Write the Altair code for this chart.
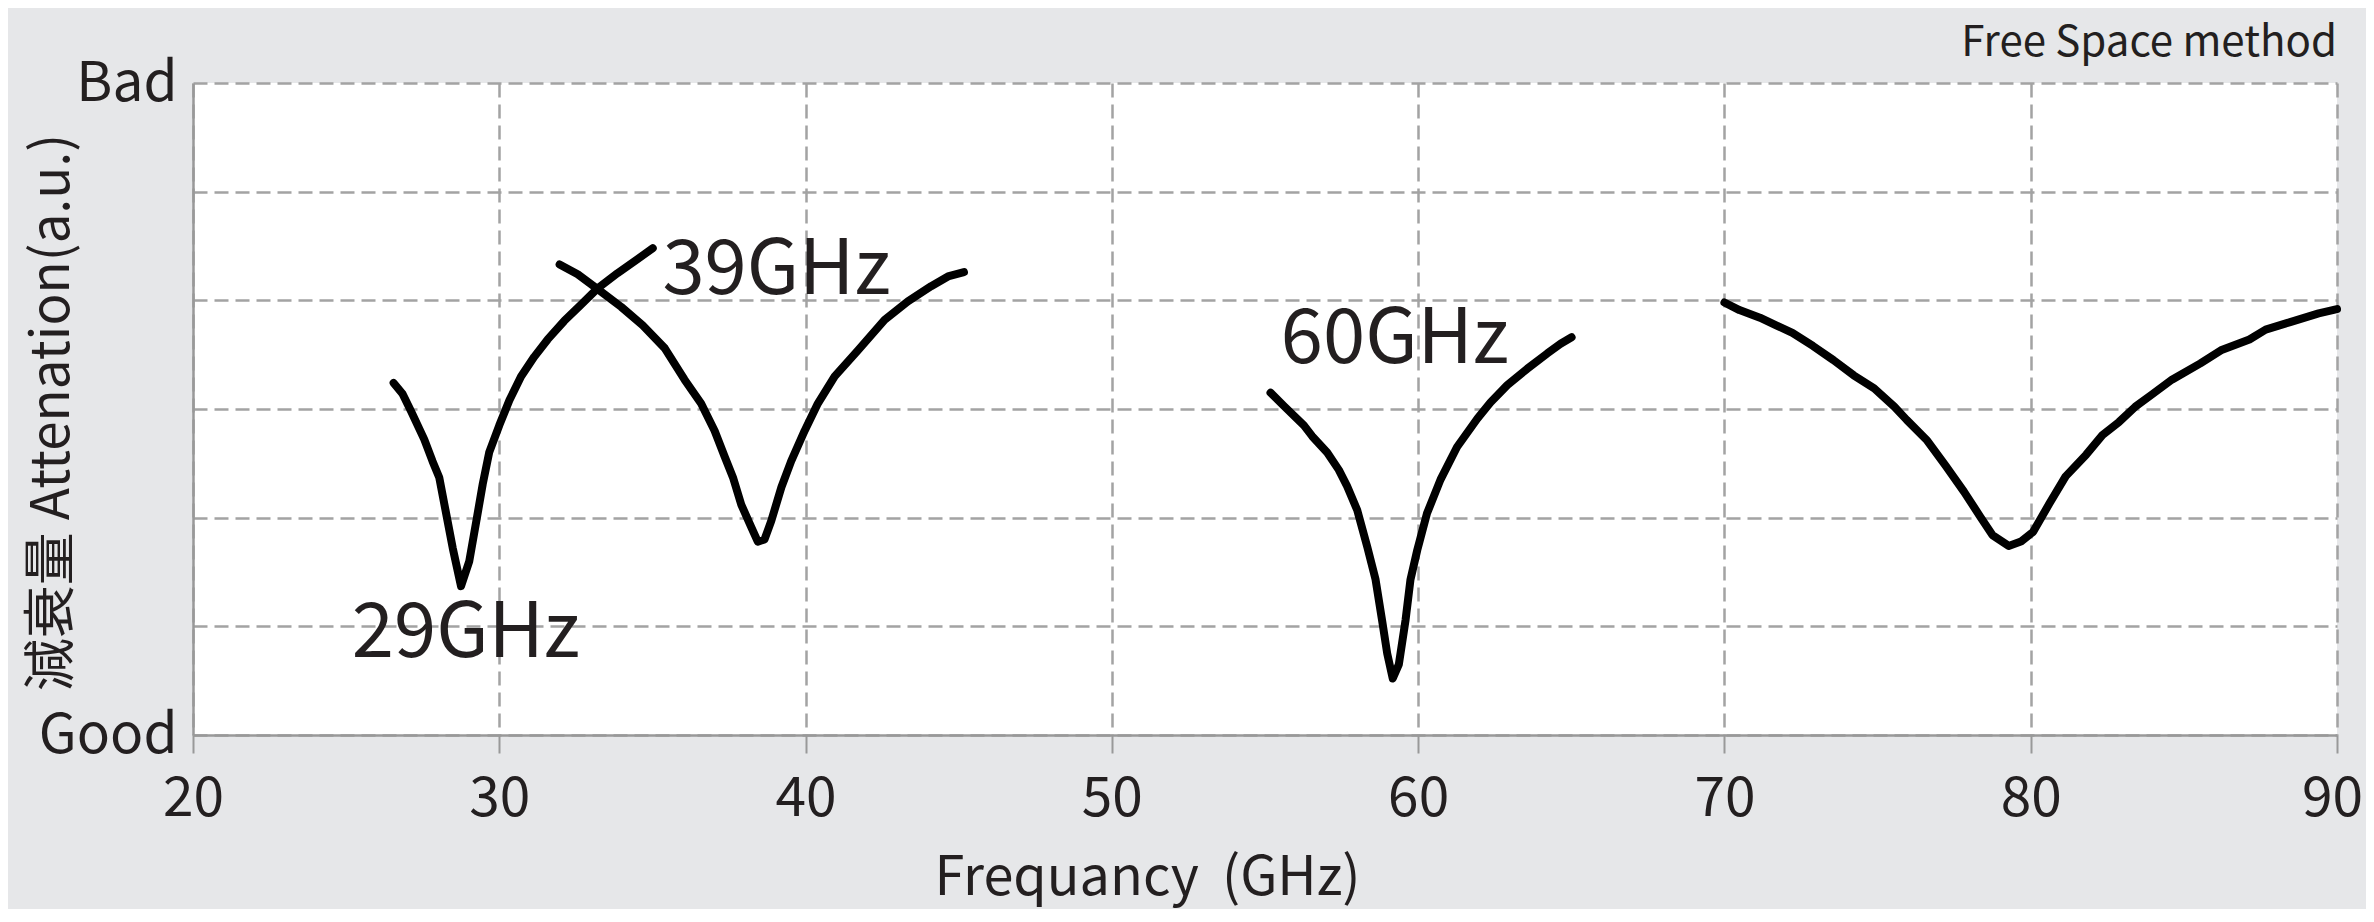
import altair as alt
import pandas as pd

# ---- data ----
c29_freq = [26.55, 26.84, 27.12, 27.55, 27.82, 28.04, 28.23, 28.48, 28.75, 29.02, 29.27, 29.46,
            29.67, 30.00, 30.33, 30.71, 31.14, 31.58, 32.12, 32.67, 33.21, 33.86, 34.52, 35.01]
c29_att = [3.24, 3.14, 2.98, 2.72, 2.52, 2.37, 2.09, 1.72, 1.37, 1.60, 2.00, 2.31,
           2.60, 2.85, 3.08, 3.30, 3.48, 3.64, 3.81, 3.96, 4.11, 4.25, 4.38, 4.48]

c39_freq = [31.97, 32.56, 33.23, 33.98, 34.68, 35.40, 36.05, 36.59, 37.03, 37.36, 37.63, 37.90,
            38.23, 38.44, 38.66, 38.88, 39.21, 39.53, 39.97, 40.40, 40.95, 41.71, 42.58, 43.34,
            44.10, 44.65, 45.17]
c39_att = [4.33, 4.24, 4.10, 3.94, 3.77, 3.56, 3.27, 3.05, 2.80, 2.56, 2.37, 2.12,
           1.91, 1.78, 1.80, 1.97, 2.28, 2.52, 2.80, 3.05, 3.30, 3.54, 3.82, 3.99,
           4.13, 4.22, 4.26]

c60_freq = [55.18, 55.61, 56.27, 56.54, 57.03, 57.41, 57.68, 58.01, 58.34, 58.61, 58.82, 58.99,
            59.17, 59.37, 59.59, 59.75, 59.97, 60.29, 60.73, 61.27, 61.93, 62.36, 62.91, 63.56,
            64.21, 64.65, 65.01]
c60_att = [3.15, 3.03, 2.85, 2.75, 2.60, 2.44, 2.29, 2.07, 1.73, 1.43, 1.06, 0.75,
           0.52, 0.65, 1.06, 1.43, 1.70, 2.04, 2.35, 2.65, 2.91, 3.06, 3.22, 3.37,
           3.51, 3.60, 3.66]

c79_freq = [70.00, 70.49, 71.16, 71.69, 72.22, 72.89, 73.56, 74.22, 74.89, 75.55, 75.95, 76.62,
            77.22, 77.82, 78.35, 78.75, 79.28, 79.68, 80.08, 80.61, 81.14, 81.81, 82.34, 82.88,
            83.41, 83.94, 84.61, 85.54, 86.21, 87.14, 87.67, 88.47, 89.40, 90.00]
c79_att = [3.98, 3.91, 3.84, 3.77, 3.70, 3.58, 3.45, 3.31, 3.19, 3.02, 2.90, 2.71,
           2.48, 2.24, 2.01, 1.84, 1.74, 1.78, 1.87, 2.13, 2.38, 2.58, 2.76, 2.88,
           3.02, 3.13, 3.27, 3.42, 3.54, 3.64, 3.73, 3.80, 3.88, 3.92]

label_text = ["29GHz", "39GHz", "60GHz"]
label_freq = [28.91, 39.05, 59.24]
label_att = [0.72, 4.06, 3.42]

x_ticks = [20, 30, 40, 50, 60, 70, 80, 90]
y_ticks = [0, 1, 2, 3, 4, 5, 6]

# ---- build tables ----
rows = []
for name, fx, fy in [("29", c29_freq, c29_att), ("39", c39_freq, c39_att),
                     ("60", c60_freq, c60_att), ("79", c79_freq, c79_att)]:
    for i, (a, b) in enumerate(zip(fx, fy)):
        rows.append({"curve": name, "i": i, "freq": a, "att": b})
curves = pd.DataFrame(rows)
labels = pd.DataFrame({"text": label_text, "freq": label_freq, "att": label_att})

FONT = "Noto Sans CJK JP"
INK = "#231f20"
GRID = "#a3a3a3"

x_scale = alt.Scale(domain=[20, 90], nice=False, zero=False)
y_scale = alt.Scale(domain=[0, 6], nice=False)

x_axis = alt.Axis(
    values=x_ticks, title="Frequancy \u2009(GHz)", labelFontSize=55, titleFontSize=54,
    labelFont=FONT, titleFont=FONT, labelColor=INK, titleColor=INK,
    titleFontWeight="normal", tickSize=18, tickColor="#999999", tickWidth=2,
    domainColor="#999999", domainWidth=2.5, grid=True, gridDash=[14, 7],
    gridColor=GRID, gridWidth=2.5, labelBaseline="alphabetic", labelPadding=62,
    labelOffset={"condition": {"test": "datum.value == 90", "value": -5}, "value": 0},
    titleX=954, titleY=159, titleAlign="center", titleBaseline="alphabetic",
    titleAnchor="start", labelFlush=False,
)
y_axis = alt.Axis(
    values=y_ticks, title="減衰量 Attenation(a.u.)", labelFontSize=55, titleFontSize=53,
    labelFont=FONT, titleFont=FONT, labelColor=INK, titleColor=INK,
    titleFontWeight="normal", ticks=False, domainColor="#999999", domainWidth=2.5,
    grid=True, gridDash=[14, 7], gridColor=GRID, gridWidth=2.5,
    labelExpr="datum.value == 6 ? 'Bad' : (datum.value == 0 ? 'Good' : '')",
    labelPadding=16, labelBaseline="middle", labelFlush=False,
    titleAngle=-90, titleX=-125, titleY=329, titleAlign="center",
    titleBaseline="alphabetic", titleAnchor="start",
)

lines = alt.Chart(curves).mark_line(
    color="black", strokeWidth=8, strokeCap="round", strokeJoin="round"
).encode(
    x=alt.X("freq:Q", scale=x_scale, axis=x_axis),
    y=alt.Y("att:Q", scale=y_scale, axis=y_axis),
    detail="curve:N",
    order="i:Q",
)

texts = alt.Chart(labels).mark_text(
    font=FONT, fontSize=76, color=INK, align="center", baseline="alphabetic"
).encode(
    x=alt.X("freq:Q", scale=x_scale),
    y=alt.Y("att:Q", scale=y_scale),
    text="text:N",
)

chart = alt.layer(lines, texts).properties(
    width=2144, height=652,
    padding={"left": 185, "top": 75, "right": 29, "bottom": 174},
    autosize=alt.AutoSizeParams(type="none"),
    title=alt.TitleParams(
        "Free Space method", anchor="end", fontSize=42, font=FONT, color=INK,
        fontWeight="normal", baseline="alphabetic", offset=8, dy=50, frame="group",
    ),
).configure(background="#e6e7e9").configure_view(fill="white", stroke=None)

chart.save("out.html", embed_options={"renderer": "svg", "actions": False})
